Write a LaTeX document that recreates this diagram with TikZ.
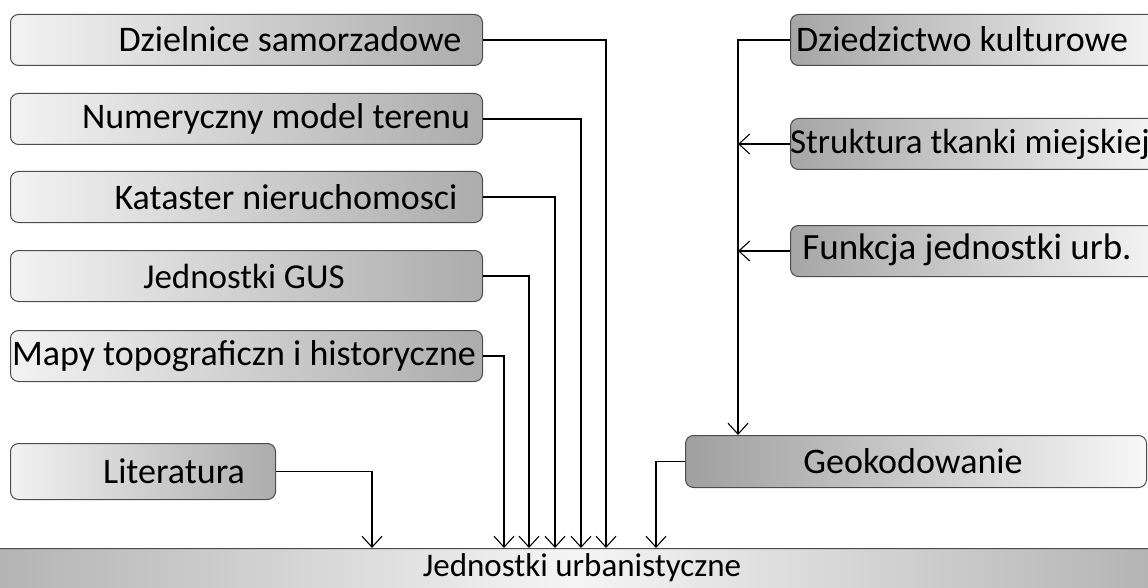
\documentclass[tikz,border=0pt]{standalone}
\usepackage{fontspec}
\setmainfont{Carlito}
\usetikzlibrary{arrows.meta}
\begin{document}
\begin{tikzpicture}[x=1pt,y=-1pt,
  boxbase/.style={draw=black!70, line width=1pt, rounded corners=8pt, inner sep=0pt},
  lbox/.style={boxbase, anchor=north west, minimum width=472pt, minimum height=51pt,
    left color=gray!10, right color=gray!65},
  rbox/.style={boxbase, anchor=north west, minimum width=370pt, minimum height=51pt,
    left color=gray!70, right color=gray!8},
  lbl/.style={inner sep=0pt, text=black, font=\fontsize{#1}{#1}\selectfont},
  conn/.style={line width=1.1pt, draw=black},
  arr/.style={conn, -{Straight Barb[length=11pt,width=20pt,line width=1.1pt]}}]
\useasboundingbox (0,0) rectangle (1148,588);
\clip (0,0) rectangle (1148,588);
% bottom box
\node[boxbase, anchor=north west, minimum width=1170pt, minimum height=60pt,
  left color=gray!60, right color=gray!60, middle color=gray!8] (bot) at (-10,548) {};
\node[lbl=33] (bott) at (582,568) {Jednostki urbanistyczne};
% left boxes
\node[lbox] (b1) at (10,14) {};
\node[lbox] (b2) at (10,93) {};
\node[lbox] (b3) at (10,171) {};
\node[lbox] (b4) at (10,250) {};
\node[lbox] (b5) at (10,330) {};
\node[boxbase, anchor=north west, minimum width=265pt, minimum height=56pt,
  left color=gray!10, right color=gray!65] (lit) at (10,443) {};
\node[lbl=36] (b1t) at (290,39) {Dzielnice samorzadowe};
\node[lbl=36] (b2t) at (276,119) {Numeryczny model terenu};
\node[lbl=36] (b3t) at (286,197) {Kataster nieruchomosci};
\node[lbl=35] (b4t) at (244,276) {Jednostki GUS};
\node[lbl=36] (b5t) at (244,356) {Mapy topograficzn i historyczne};
\node[lbl=36] (litt) at (174,471) {Literatura};
% right boxes
\node[rbox] (d) at (790,14) {};
\node[rbox] (s) at (790,118) {};
\node[rbox] (f) at (790,225) {};
\node[boxbase, anchor=north west, minimum width=461pt, minimum height=52pt,
  left color=gray!75, right color=gray!6] (g) at (685,435) {};
\node[lbl=36] (dt) at (962,39) {Dziedzictwo kulturowe};
\node[lbl=35] (st) at (970,144) {Struktura tkanki miejskiej};
\node[lbl=37] (ft) at (967,250) {Funkcja jednostki urb.};
\node[lbl=36] (gtx) at (913,461) {Geokodowanie};
% arrow tips
\coordinate (t0) at (372,548);
\coordinate (t5) at (504,548);
\coordinate (t4) at (529,548);
\coordinate (t3) at (555,548);
\coordinate (t2) at (581,548);
\coordinate (t1) at (606,548);
\coordinate (t6) at (656,548);
\coordinate (gt) at (738,435);
% connectors
\draw[arr] (b1.east) -| (t1);
\draw[arr] (b2.east) -| (t2);
\draw[arr] (b3.east) -| (t3);
\draw[arr] (b4.east) -| (t4);
\draw[arr] (b5.east) -| (t5);
\draw[arr] (lit.east) -| (t0);
\draw[arr] (d.west) -| (gt);
\draw[arr] (s.west) -- (s.west -| gt);
\draw[arr] (f.west) -- (f.west -| gt);
\draw[arr] (g.west) -| (t6);
\end{tikzpicture}
\end{document}
